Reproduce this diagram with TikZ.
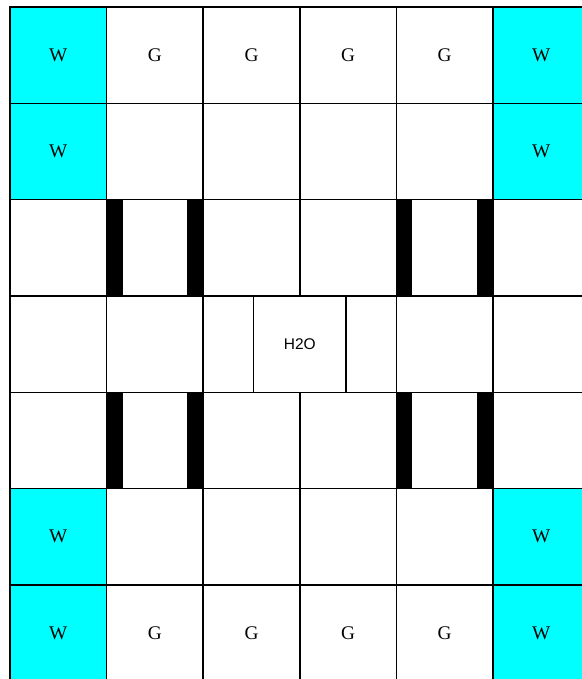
\documentclass[tikz,border=0pt]{standalone}
\usepackage{fontspec}
\setmainfont{Liberation Serif}
\newfontfamily\labelsans{Liberation Sans}
\usetikzlibrary{positioning}
\definecolor{WaterCyan}{RGB}{0,255,255}

\begin{document}
\begin{tikzpicture}[
    x=2.5cm, y=2.493cm,
    cell/.style={draw, line width=1.05pt, fill=white, minimum width=2.5cm,
                 minimum height=2.493cm, inner sep=0pt, outer sep=0pt,
                 font=\fontsize{14.2}{16}\selectfont},
    wcell/.style={cell, fill=WaterCyan},
    half/.style={cell, minimum width=1.3cm},
    bar/.style={fill=black, minimum width=0.415cm, minimum height=2.493cm,
                inner sep=0pt, outer sep=0pt}
]
\useasboundingbox (-0.1035,0.024) rectangle (5.921,7.0727);

% water corners
\foreach \r in {0,1,5,6}{
  \node[wcell] (w0-\r) at (0.5,6.5-\r) {W};
  \node[wcell] (w5-\r) at (5.5,6.5-\r) {W};
}

% G cells top and bottom
\foreach \c in {1,...,4}{
  \node[cell] (g\c-0) at (\c+0.5,6.5) {G};
  \node[cell] (g\c-6) at (\c+0.5,0.5) {G};
}

% empty cells
\foreach \c in {1,...,4}
  \foreach \r in {1,5}
    \node[cell] (e\c-\r) at (\c+0.5,6.5-\r) {};
\foreach \c in {0,...,5}
  \foreach \r in {2,4}
    \node[cell] (e\c-\r) at (\c+0.5,6.5-\r) {};
\foreach \c in {0,1,4,5}
  \node[cell] (e\c-3) at (\c+0.5,3.5) {};

% middle row with H2O
\node[half] (s2-3) at (2.26,3.5) {};
\node[half] (s3-3) at (3.74,3.5) {};
\node[cell, minimum width=2.4cm, font=\labelsans\fontsize{11.4}{13}\selectfont]
  (h2o) at (3,3.5) {H2O};

% walls
\foreach \c in {1,4}
  \foreach \r in {2,4}{
    \node[bar, anchor=west] (bl\c-\r) at (e\c-\r.west) {};
    \node[bar, anchor=east] (br\c-\r) at (e\c-\r.east) {};
  }
\end{tikzpicture}
\end{document}
